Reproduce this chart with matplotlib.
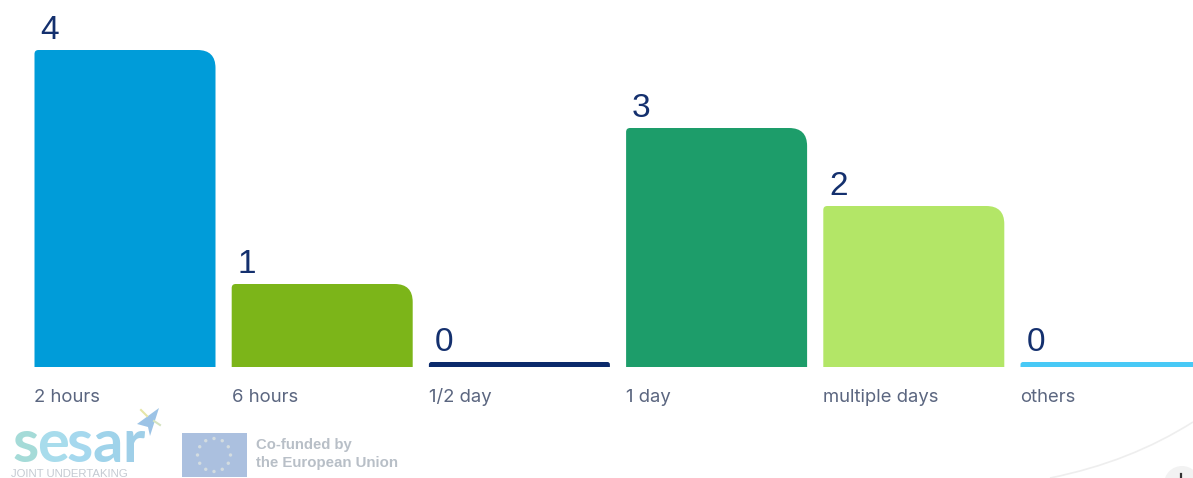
import numpy as np
import matplotlib
matplotlib.use("Agg")
import matplotlib.pyplot as plt
from matplotlib.patches import PathPatch, Rectangle, Circle
from matplotlib.path import Path

categories = ["2 hours", "6 hours", "1/2 day", "1 day", "multiple days", "others"]
values = [4, 1, 0, 3, 2, 0]
colors = ["#009cd9", "#7cb519", "#0b2a6b", "#1d9d6a", "#b3e667", "#48c9f6"]

W, H = 1193, 478
PITCH = 197.2
UNIT = 78.0
BAR_W = 181 / PITCH
STUB = 5 / UNIT


def rounded_bar(ax, x, v, c):
    # only the top right corner is really round
    left = x - BAR_W / 2
    right = x + BAR_W / 2
    bottom = -STUB
    top = v
    r = 2.5 if v == 0 else 18
    rl = 2.5 if v == 0 else 4
    rx, ry = r / PITCH, r / UNIT
    lx, ly = rl / PITCH, rl / UNIT
    verts = [(left, bottom), (left, top - ly), (left, top), (left + lx, top),
             (right - rx, top), (right, top), (right, top - ry),
             (right, bottom), (left, bottom)]
    codes = [Path.MOVETO, Path.LINETO, Path.CURVE3, Path.CURVE3,
             Path.LINETO, Path.CURVE3, Path.CURVE3,
             Path.LINETO, Path.CLOSEPOLY]
    ax.add_patch(PathPatch(Path(verts, codes), fc=c, ec="none"))


fig = plt.figure(figsize=(W / 100, H / 100), dpi=100, facecolor="white")

# bars, axes fills the whole figure
ax = fig.add_axes([0, 0, 1, 1])
ax.set_xlim(-125 / PITCH, (W - 125) / PITCH)
ax.set_ylim((362 - H) / UNIT, 362 / UNIT)
ax.axis("off")

for i, (cat, v, c) in enumerate(zip(categories, values, colors)):
    rounded_bar(ax, i, v, c)
    left = i - BAR_W / 2
    ax.text(left + 6 / PITCH, v + 0.14, str(v), fontsize=24, color="#14306e",
            family="Liberation Sans", ha="left", va="baseline")
    ax.text(left, -0.45, cat, fontsize=13.3, color="#5b6680",
            family="Inter", ha="left", va="center")

# footer, in pixel coordinates
deco = fig.add_axes([0, 0, 1, 1], facecolor="none")
deco.set_xlim(0, W)
deco.set_ylim(H, 0)
deco.axis("off")

# sesar logo
letters = ["s", "e", "s", "a", "r"]
letter_x = [13, 37, 67, 92, 122]
letter_c = ["#a5dbd8", "#a8dcec", "#a5d8ee", "#9fd3ea", "#9fcfe8"]
for lx, ch, c in zip(letter_x, letters, letter_c):
    deco.text(lx, 462, ch, fontsize=43, color=c, family="Lato",
              weight="bold", ha="left", va="baseline")
deco.add_patch(plt.Polygon([(159, 408), (137, 424), (148, 427), (150, 436)],
                           fc="#9cc3e6", ec="none"))
deco.plot([141, 147], [410, 416], color="#e6e6a8", lw=1.5)
deco.plot([154, 160], [421, 425], color="#d5e3c0", lw=1.5)
deco.text(11, 474, "JOINT UNDERTAKING", fontsize=8.2, color="#c4cad2",
          family="Liberation Sans", ha="left", va="center")

# EU flag
deco.add_patch(Rectangle((182, 433), 65, 44, fc="#abc0df", ec="none"))
for a in np.arange(12) * np.pi / 6:
    deco.add_patch(Circle((214 + 16.5 * np.cos(a), 455 + 16.5 * np.sin(a)), 1.7,
                          fc="#d3dce0", ec="none"))
deco.text(256, 445, "Co-funded by", fontsize=10.7, color="#b8bfc7",
          family="Liberation Sans", weight="bold", ha="left", va="center")
deco.text(256, 463, "the European Union", fontsize=10.8, color="#b8bfc7",
          family="Liberation Sans", weight="bold", ha="left", va="center")

# faint arc and round button in the corner
arc = Path([(1050, 478), (1130, 462), (1193, 422)],
           [Path.MOVETO, Path.CURVE3, Path.CURVE3])
deco.add_patch(PathPatch(arc, fc="none", ec="#eeeeee", lw=1.2))
deco.add_patch(Circle((1182, 484), 18, fc="#f2f2f2", ec="none"))
deco.plot([1181, 1181], [474, 478], color="#333333", lw=1.6)

fig.savefig("out.png", dpi=100)
